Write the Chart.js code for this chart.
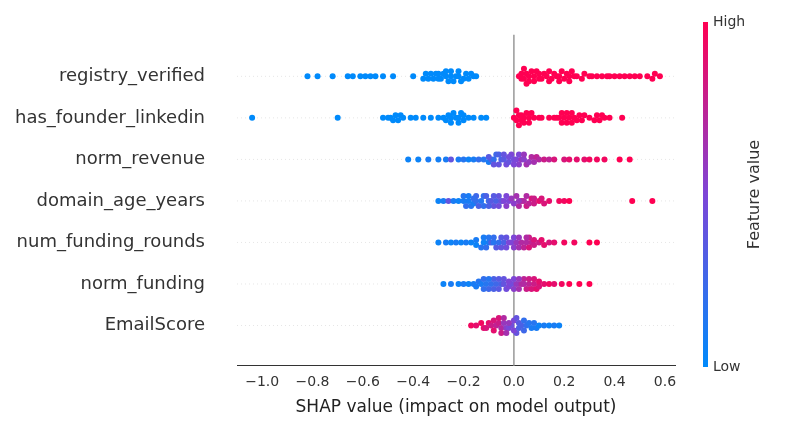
<!DOCTYPE html>
<html>
<head>
<meta charset="utf-8">
<script src="https://cdn.jsdelivr.net/npm/chart.js@4"></script>
<style>
  html, body { margin: 0; padding: 0; background: #fff; }
  #wrap { width: 800px; height: 430px; }
</style>
</head>
<body>
<div id="wrap"><canvas id="c" width="800" height="430"></canvas></div>
<script>
// features, top to bottom
const features = ['registry_verified', 'has_founder_linkedin', 'norm_revenue', 'domain_age_years',
                  'num_funding_rounds', 'norm_funding', 'EmailScore'];

// SHAP values and (normalised) feature values, one pair of arrays per feature
const registryShap = [-0.82,-0.78,-0.72,-0.66,-0.64,-0.61,-0.59,-0.57,-0.55,-0.52,-0.48,-0.4,-0.36,-0.35,-0.34,-0.33,-0.32,-0.31,-0.3,-0.3,-0.29,-0.28,-0.27,-0.27,-0.26,-0.25,-0.25,-0.24,-0.23,-0.22,-0.22,-0.21,-0.2,-0.19,-0.18,-0.17,-0.16,-0.15,
  0.02,0.03,0.03,0.04,0.05,0.05,0.06,0.07,0.08,0.09,0.1,0.11,0.12,0.13,0.14,0.15,0.16,0.17,0.18,0.19,0.2,0.21,0.22,0.23,0.24,0.25,0.27,0.28,0.3,0.31,0.33,0.35,0.37,0.38,0.4,0.42,0.44,0.46,0.48,0.5,0.53,0.55,0.56,0.58,0.04,0.06,0.08,0.1,0.14,0.18,0.22];
const registryVal = [0,0,0,0,0,0,0,0,0,0,0,0,0,0,0,0,0,0,0,0,0,0,0,0,0,0,0,0,0,0,0,0,0,0,0,0,0,0,
  1,1,1,1,1,1,1,1,1,1,1,1,1,1,1,1,1,1,1,1,1,1,1,1,1,1,1,1,1,1,1,1,1,1,1,1,1,1,1,1,1,1,1,1,1,1,1,1,1,1,1];

const linkedinShap = [-1.04,-0.7,-0.52,-0.5,-0.49,-0.48,-0.47,-0.46,-0.45,-0.44,-0.41,-0.39,-0.36,-0.33,-0.3,-0.28,-0.27,-0.26,-0.25,-0.24,-0.23,-0.22,-0.21,-0.2,-0.18,-0.16,-0.13,-0.11,-0.25,-0.22,-0.2,
  0.0,0.01,0.02,0.03,0.04,0.05,0.06,0.07,0.08,0.1,0.11,0.14,0.16,0.17,0.18,0.19,0.2,0.21,0.22,0.23,0.24,0.25,0.26,0.27,0.28,0.3,0.32,0.33,0.34,0.35,0.36,0.38,0.43,0.02,0.04,0.06,0.19,0.21,0.23,0.01,0.03];
const linkedinVal = [0,0,0,0,0,0,0,0,0,0,0,0,0,0,0,0,0,0,0,0,0,0,0,0,0,0,0,0,0,0,0,
  1,1,1,1,1,1,1,1,1,1,1,1,1,1,1,1,1,1,1,1,1,1,1,1,1,1,1,1,1,1,1,1,1,1,1,1,1,1,1,1,1];

const revenueShap = [-0.42,-0.38,-0.34,-0.3,-0.27,-0.25,-0.22,-0.2,-0.18,-0.16,-0.14,-0.12,-0.1,-0.09,-0.08,-0.07,-0.06,-0.05,-0.04,-0.03,-0.02,-0.01,0,0.01,0.02,0.03,0.04,0.05,0.06,0.07,0.08,0.09,0.1,0.12,0.14,0.16,0.2,0.22,0.25,0.28,0.3,0.33,0.36,0.42,0.46,-0.06,-0.04,-0.02,0,0.02,-0.1,0.04,-0.08];
const revenueVal = [0.05,0.05,0.1,0.08,0.1,0.4,0.1,0.15,0.05,0.1,0.2,0.15,0.1,0.3,0.2,0.25,0.4,0.3,0.35,0.45,0.4,0.5,0.45,0.5,0.55,0.6,0.55,0.65,0.6,0.7,0.65,0.75,0.7,0.8,0.75,0.85,0.85,0.9,0.9,0.9,0.95,0.95,0.95,1,1,0.3,0.4,0.45,0.5,0.5,0.35,0.6,0.4];

const domainShap = [-0.3,-0.28,-0.26,-0.24,-0.22,-0.2,-0.19,-0.18,-0.17,-0.16,-0.15,-0.14,-0.13,-0.12,-0.11,-0.1,-0.09,-0.08,-0.07,-0.06,-0.05,-0.04,-0.03,-0.02,-0.01,0,0.01,0.02,0.03,0.04,0.05,0.06,0.07,0.08,0.1,0.12,0.14,0.18,0.2,0.22,0.47,0.55,-0.18,-0.15,-0.12,-0.1,-0.06,-0.03,0.02,0.05,0.08,0.11,-0.2,-0.16,-0.08];
const domainVal = [0.05,0.1,0.4,0.1,0.05,0.15,0.2,0.1,0.15,0.1,0.2,0.3,0.15,0.2,0.3,0.25,0.35,0.4,0.3,0.45,0.4,0.5,0.55,0.5,0.6,0.55,0.65,0.7,0.75,0.7,0.8,0.75,0.85,0.8,0.9,0.85,0.9,0.95,0.95,1,1,1,0.1,0.25,0.2,0.3,0.4,0.5,0.6,0.7,0.8,0.85,0.1,0.2,0.35];

const roundsShap = [-0.3,-0.27,-0.25,-0.23,-0.21,-0.19,-0.17,-0.15,-0.13,-0.12,-0.11,-0.1,-0.09,-0.08,-0.07,-0.06,-0.05,-0.04,-0.03,-0.02,-0.01,0,0.01,0.02,0.03,0.04,0.05,0.06,0.07,0.08,0.1,0.12,0.14,0.16,0.2,0.24,0.3,0.33,-0.12,-0.1,-0.08,-0.05,-0.03,0,0.02,0.05,0.08,0.11,-0.15,0.06];
const roundsVal = [0.05,0.1,0.05,0.1,0.05,0.1,0.05,0.1,0.15,0.05,0.2,0.1,0.3,0.15,0.35,0.2,0.4,0.3,0.45,0.5,0.5,0.55,0.6,0.65,0.7,0.75,0.7,0.8,0.75,0.85,0.8,0.9,0.85,0.9,0.95,0.95,1,1,0.1,0.15,0.2,0.35,0.4,0.5,0.6,0.7,0.8,0.9,0.05,0.85];

const fundingShap = [-0.28,-0.25,-0.22,-0.2,-0.18,-0.16,-0.14,-0.13,-0.12,-0.11,-0.1,-0.09,-0.08,-0.07,-0.06,-0.05,-0.04,-0.03,-0.02,-0.01,0,0.01,0.02,0.03,0.04,0.05,0.06,0.07,0.08,0.09,0.1,0.12,0.14,0.16,0.19,0.22,0.26,0.3,-0.1,-0.08,-0.06,-0.04,-0.02,0,0.02,0.04,0.06,0.08,0.1,-0.15,-0.12];
const fundingVal = [0.05,0.1,0.05,0.1,0.05,0.1,0.15,0.1,0.2,0.15,0.25,0.2,0.3,0.25,0.35,0.3,0.4,0.45,0.5,0.45,0.55,0.6,0.65,0.7,0.75,0.8,0.75,0.85,0.8,0.9,0.85,0.9,0.95,0.9,0.95,1,1,1,0.15,0.3,0.35,0.4,0.5,0.5,0.6,0.7,0.8,0.85,0.9,0.1,0.2];

const emailShap = [-0.17,-0.15,-0.13,-0.12,-0.11,-0.1,-0.09,-0.08,-0.07,-0.06,-0.05,-0.04,-0.03,-0.02,-0.01,0,0.01,0.02,0.03,0.04,0.05,0.06,0.07,0.08,0.09,0.1,0.12,0.14,0.16,0.18,-0.08,-0.06,-0.04,-0.02,0,0.02,0.04,-0.05,-0.03,0.01];
const emailVal = [0.95,0.9,0.95,0.9,0.85,0.9,0.8,0.85,0.75,0.8,0.7,0.6,0.55,0.5,0.45,0.5,0.4,0.35,0.3,0.25,0.2,0.15,0.1,0.15,0.1,0.05,0.1,0.05,0.1,0.05,0.9,0.85,0.7,0.6,0.5,0.3,0.2,0.8,0.65,0.4];

const shapRows = [registryShap, linkedinShap, revenueShap, domainShap, roundsShap, fundingShap, emailShap];
const valRows = [registryVal, linkedinVal, revenueVal, domainVal, roundsVal, fundingVal, emailVal];
const xTicks = [-1.0, -0.8, -0.6, -0.4, -0.2, 0.0, 0.2, 0.4, 0.6];

// SHAP red-blue colormap
const cmapStops = [[0, [0, 138, 251]], [0.5, [125, 70, 215]], [1, [255, 0, 82]]];
function cmap(t) {
  for (let i = 1; i < cmapStops.length; i++) {
    if (t <= cmapStops[i][0]) {
      const [t0, c0] = cmapStops[i - 1], [t1, c1] = cmapStops[i];
      const f = (t - t0) / (t1 - t0);
      return 'rgb(' + c0.map((c, k) => Math.round(c + (c1[k] - c) * f)).join(',') + ')';
    }
  }
  return 'rgb(255,0,82)';
}

// beeswarm offsets: bin along x, stack points alternately above/below the row
function swarm(xs, vals) {
  const nbins = 100, lo = -1.1, hi = 0.64, w = (hi - lo) / nbins;
  const bins = {};
  xs.forEach((x, i) => {
    const b = Math.round((x - lo) / w);
    (bins[b] = bins[b] || []).push(i);
  });
  const layer = new Array(xs.length).fill(0);
  let maxLayer = 1;
  Object.values(bins).forEach(idx => {
    idx.sort((a, b) => vals[a] - vals[b]);
    idx.forEach((i, k) => {
      const l = idx.length % 2 === 1 ? Math.ceil(k / 2) * (k % 2 ? 1 : -1) : (Math.floor(k / 2) + 0.5) * (k % 2 ? 1 : -1);
      layer[i] = l;
      maxLayer = Math.max(maxLayer, Math.abs(l));
    });
  });
  const scale = Math.min(0.12, 0.4 / maxLayer);
  return layer.map(l => l * scale);
}

const points = [], colors = [];
shapRows.forEach((xs, r) => {
  const off = swarm(xs, valRows[r]);
  const yRow = features.length - 1 - r;
  xs.forEach((x, i) => {
    points.push({ x: x, y: yRow + off[i] });
    colors.push(cmap(valRows[r][i]));
  });
});

const colorbar = {
  id: 'colorbar',
  beforeDatasetsDraw(chart) {
    const { ctx, chartArea: a, scales: { x, y } } = chart;
    ctx.save();
    // dotted row guides
    ctx.strokeStyle = '#e6e6e6';
    ctx.setLineDash([1, 3]);
    ctx.lineWidth = 1;
    for (let r = 0; r < features.length; r++) {
      const py = y.getPixelForValue(r);
      ctx.beginPath(); ctx.moveTo(a.left, py); ctx.lineTo(a.right, py); ctx.stroke();
    }
    ctx.setLineDash([]);
    // zero line
    ctx.strokeStyle = '#999';
    ctx.lineWidth = 1.5;
    const px = x.getPixelForValue(0);
    ctx.beginPath(); ctx.moveTo(px, a.top); ctx.lineTo(px, a.bottom); ctx.stroke();
    ctx.restore();
  },
  afterDraw(chart) {
    const { ctx } = chart;
    const x0 = 703, top = 22, bottom = 367, w = 5;
    ctx.save();
    const g = ctx.createLinearGradient(0, bottom, 0, top);
    cmapStops.forEach(([t, c]) => g.addColorStop(t, 'rgb(' + c.join(',') + ')'));
    ctx.fillStyle = g;
    ctx.fillRect(x0, top, w, bottom - top);
    ctx.fillStyle = '#333';
    ctx.font = '14px "DejaVu Sans"';
    ctx.textBaseline = 'middle';
    ctx.fillText('High', x0 + 10, top);
    ctx.fillText('Low', x0 + 10, bottom);
    ctx.translate(755, (top + bottom) / 2);
    ctx.rotate(-Math.PI / 2);
    ctx.textAlign = 'center';
    ctx.font = '16px "DejaVu Sans"';
    ctx.fillText('Feature value', 0, 0);
    ctx.restore();
  }
};

new Chart(document.getElementById('c'), {
  type: 'scatter',
  data: {
    datasets: [{
      data: points,
      backgroundColor: colors,
      borderWidth: 0,
      pointRadius: 3,
      pointHoverRadius: 3
    }]
  },
  options: {
    responsive: false,
    animation: false,
    layout: { padding: { top: 4, right: 125, left: 0, bottom: 8 } },
    plugins: { legend: { display: false }, tooltip: { enabled: false } },
    scales: {
      x: {
        type: 'linear', min: -1.1, max: 0.64,
        afterBuildTicks: s => { s.ticks = xTicks.map(v => ({ value: v })); },
        ticks: { color: '#333', font: { family: 'DejaVu Sans', size: 14 }, callback: v => (v < 0 ? '\u2212' : '') + Math.abs(v).toFixed(1) },
        grid: { display: false, drawTicks: true, tickLength: 5, tickColor: '#333' },
        border: { display: true, color: '#333' },
        title: { display: true, text: 'SHAP value (impact on model output)', color: '#222', font: { family: 'DejaVu Sans', size: 17 } }
      },
      y: {
        type: 'linear', min: -0.97, max: 7,
        afterBuildTicks: s => { s.ticks = features.map((f, i) => ({ value: i })); },
        afterFit: s => { s.width = 237; },
        ticks: { color: '#333', font: { family: 'DejaVu Sans', size: 18 }, padding: 24, callback: v => features[features.length - 1 - v] },
        grid: { display: false },
        border: { display: false }
      }
    }
  },
  plugins: [colorbar]
});
</script>
</body>
</html>
